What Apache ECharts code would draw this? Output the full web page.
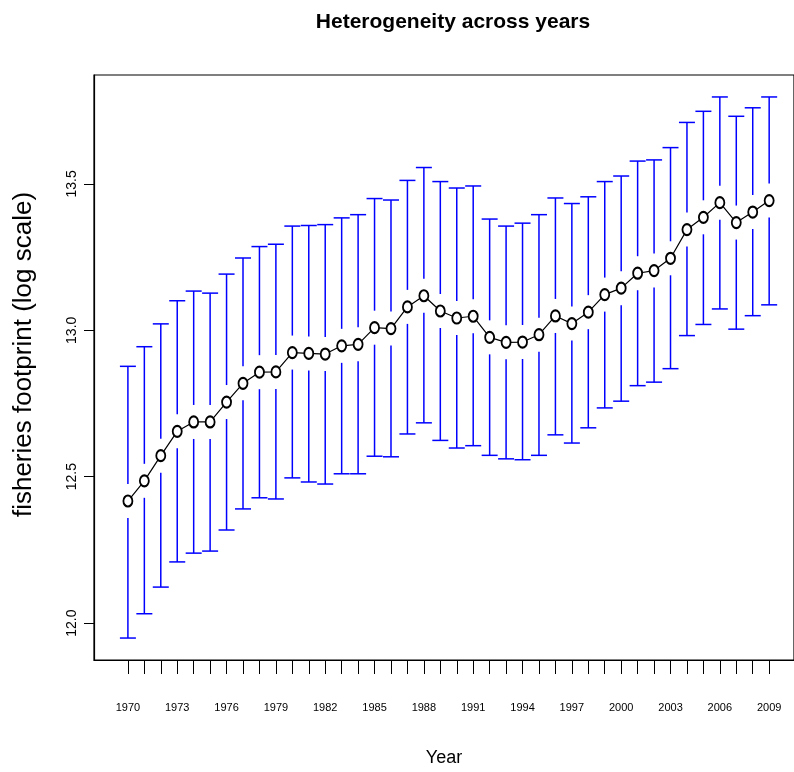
<!DOCTYPE html>
<html>
<head>
<meta charset="utf-8">
<script src="https://cdn.jsdelivr.net/npm/echarts@6/dist/echarts.min.js"></script>
<style>html,body{margin:0;padding:0;background:#fff}#c{width:794px;height:772px}</style>
</head>
<body>
<div id="c"></div>
<script>
var years = [1970,1971,1972,1973,1974,1975,1976,1977,1978,1979,1980,1981,1982,1983,1984,1985,1986,1987,1988,1989,1990,1991,1992,1993,1994,1995,1996,1997,1998,1999,2000,2001,2002,2003,2004,2005,2006,2007,2008,2009];
var means = [12.417,12.486,12.572,12.655,12.687,12.687,12.755,12.819,12.857,12.858,12.924,12.921,12.919,12.947,12.952,13.009,13.006,13.080,13.118,13.066,13.042,13.048,12.976,12.959,12.960,12.985,13.049,13.023,13.062,13.122,13.144,13.195,13.204,13.246,13.344,13.386,13.436,13.368,13.404,13.443];
var upper = [12.877,12.944,13.022,13.101,13.134,13.127,13.192,13.247,13.286,13.294,13.356,13.358,13.361,13.384,13.395,13.450,13.445,13.512,13.556,13.508,13.486,13.493,13.380,13.356,13.366,13.395,13.452,13.433,13.456,13.508,13.527,13.578,13.582,13.624,13.710,13.748,13.797,13.731,13.760,13.797];
var lower = [11.949,12.032,12.123,12.209,12.239,12.246,12.318,12.390,12.428,12.424,12.496,12.482,12.475,12.510,12.510,12.570,12.568,12.646,12.684,12.624,12.598,12.606,12.573,12.561,12.558,12.573,12.643,12.615,12.667,12.735,12.758,12.811,12.823,12.869,12.982,13.020,13.073,13.004,13.050,13.087];
var xLabelYears = [1970,1973,1976,1979,1982,1985,1988,1991,1994,1997,2000,2003,2006,2009];
var yTicks = [12.0,12.5,13.0,13.5];

var chart = echarts.init(document.getElementById('c'), null, {renderer:'canvas'});

var barData = years.map(function(y,i){ return [y, means[i], lower[i], upper[i]]; });
var lineData = years.map(function(y,i){ return [y, means[i]]; });

var GAP = 17, CAP = 8;
function renderBar(params, api){
  var x = api.value(0);
  var pm = api.coord([x, api.value(1)]);
  var pl = api.coord([x, api.value(2)]);
  var pu = api.coord([x, api.value(3)]);
  var st = {stroke:'#0000ff', lineWidth:1.5};
  return {type:'group', children:[
    {type:'line', shape:{x1:pm[0],y1:pm[1]-GAP,x2:pu[0],y2:pu[1]}, style:st},
    {type:'line', shape:{x1:pu[0]-CAP,y1:pu[1],x2:pu[0]+CAP,y2:pu[1]}, style:st},
    {type:'line', shape:{x1:pm[0],y1:pm[1]+GAP,x2:pl[0],y2:pl[1]}, style:st},
    {type:'line', shape:{x1:pl[0]-CAP,y1:pl[1],x2:pl[0]+CAP,y2:pl[1]}, style:st}
  ]};
}

var SANS = "'Liberation Sans', Arial, sans-serif";

chart.setOption({
  animation:false,
  backgroundColor:'#fff',
  title:{
    text:'Heterogeneity across years',
    left:448, textAlign:'center', top:7,
    textStyle:{fontFamily:SANS, fontWeight:'bold', fontSize:21, color:'#000'}
  },
  grid:{left:94, top:75, width:702, height:585, show:true, borderColor:'#000', borderWidth:1.2, backgroundColor:'transparent'},
  xAxis:{
    type:'value', min:1967.938, max:2010.51,
    name:'Year', nameLocation:'middle', nameGap:89,
    nameTextStyle:{fontFamily:SANS, fontSize:18, color:'#000'},
    axisLine:{show:true, onZero:false, lineStyle:{color:'#000', width:1.2}},
    axisTick:{show:true, length:14, customValues:years, lineStyle:{color:'#000', width:1}},
    axisLabel:{customValues:xLabelYears, margin:42, fontFamily:SANS, fontSize:11, color:'#000',
      formatter:function(v){return String(v);}},
    splitLine:{show:false}
  },
  yAxis:{
    type:'value', min:11.874, max:13.872,
    name:'fisheries footprint (log scale)', nameLocation:'middle', nameGap:57, nameRotate:90,
    nameTextStyle:{fontFamily:SANS, fontSize:26, color:'#000', padding:[0,0,0,26]},
    axisLine:{show:true, onZero:false, lineStyle:{color:'#000', width:1.2}},
    axisTick:{show:true, length:10, customValues:yTicks, lineStyle:{color:'#000', width:1}},
    axisLabel:{customValues:yTicks, rotate:90, margin:15, fontFamily:SANS, fontSize:14, color:'#000',
      formatter:function(v){return Number(v).toFixed(1);}},
    splitLine:{show:false}
  },
  series:[
    {type:'custom', renderItem:renderBar, data:barData, encode:{x:0, y:[1,2,3]}, z:2},
    {type:'line', data:lineData, symbol:'emptyCircle', symbolSize:[9,11], showSymbol:true,
      lineStyle:{color:'#000', width:1.2}, itemStyle:{color:'#000', borderWidth:1, borderColor:'#000'}, z:3}
  ]
});
</script>
</body>
</html>
